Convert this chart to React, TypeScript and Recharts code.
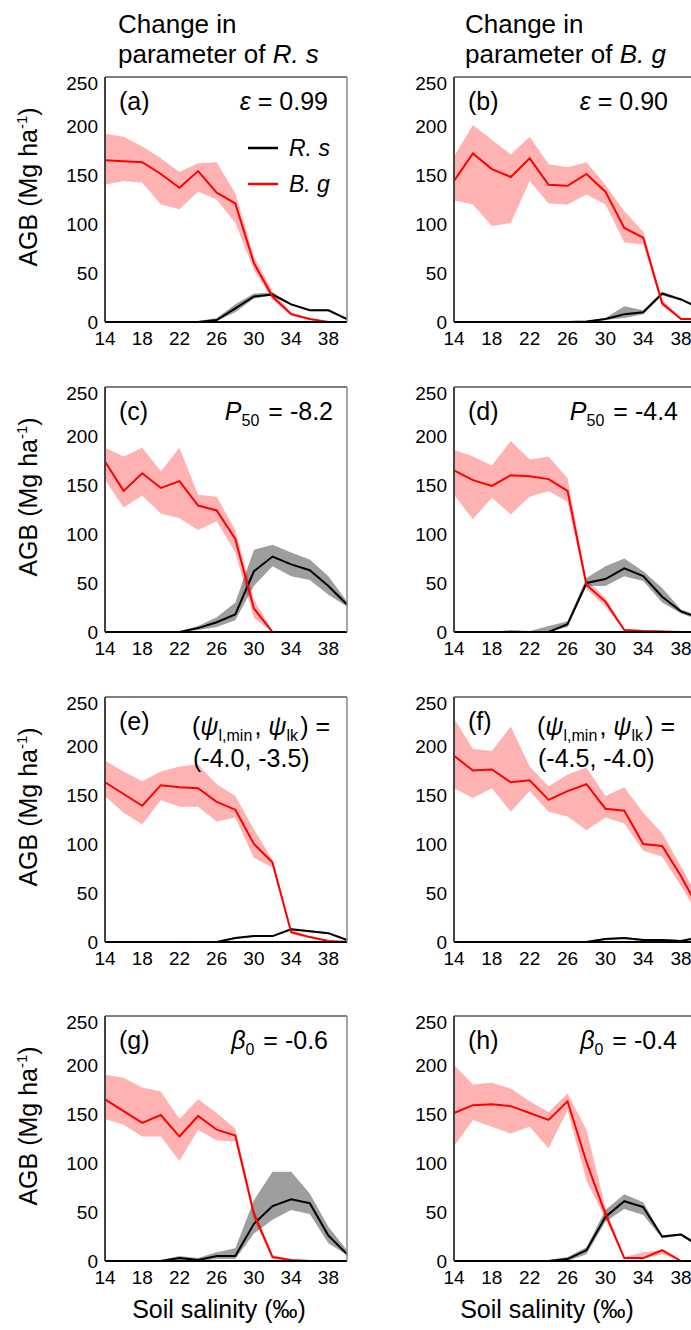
import React from "react";
import { ComposedChart, Line, Area, XAxis, YAxis, Legend } from "recharts";

const salinity = [14, 16, 18, 20, 22, 24, 26, 28, 30, 32, 34, 36, 38, 40];
const xTicks = [14, 18, 22, 26, 30, 34, 38];
const yTicks = [0, 50, 100, 150, 200, 250];
const legendOrder = ["R. s", "B. g"];

// (a) epsilon of R. s
const aBg = [165, 164, 163, 151, 137, 154, 132, 121, 60, 26, 8, 3, 0, 0];
const aBgHi = [192, 189, 179, 167, 153, 162, 163, 131, 67, 31, 10, 4, 0, 0];
const aBgLo = [140, 144, 142, 120, 115, 133, 125, 101, 53, 23, 6, 2, 0, 0];
const aRs = [0, 0, 0, 0, 0, 0, 2, 14, 26, 28, 18, 12, 12, 3];
const aRsHi = [0, 0, 0, 0, 0, 1, 4, 18, 29, 30, 19, 13, 13, 4];
const aRsLo = [0, 0, 0, 0, 0, 0, 1, 10, 24, 27, 17, 11, 11, 2];

// (b) epsilon of B. g
const bBg = [144, 172, 156, 148, 167, 140, 139, 151, 133, 96, 86, 19, 3, 3];
const bBgHi = [169, 201, 186, 171, 189, 161, 158, 163, 140, 113, 92, 23, 4, 4];
const bBgLo = [124, 120, 98, 101, 144, 121, 120, 130, 120, 81, 79, 16, 2, 2];
const bRs = [0, 0, 0, 0, 0, 0, 0, 0.5, 3, 8, 10, 29, 23, 14];
const bRsHi = [0, 0, 0, 0, 0, 0, 0, 1, 4, 16, 12, 31, 24, 15];
const bRsLo = [0, 0, 0, 0, 0, 0, 0, 0, 2, 4, 8, 27, 22, 13];

// (c) P50 of R. s
const cBg = [174, 144, 162, 147, 154, 129, 124, 95, 24, 0, 0, 0, 0, 0];
const cBgHi = [188, 179, 188, 164, 188, 140, 138, 104, 33, 1, 0, 0, 0, 0];
const cBgLo = [155, 127, 139, 121, 116, 104, 113, 81, 14, 0, 0, 0, 0, 0];
const cRs = [0, 0, 0, 0, 0, 4, 10, 18, 62, 77, 69, 63, 47, 28];
const cRsHi = [0, 0, 0, 0, 0, 6, 15, 30, 84, 89, 81, 74, 57, 31];
const cRsLo = [0, 0, 0, 0, 0, 2, 5, 12, 47, 67, 57, 53, 38, 26];

// (d) P50 of B. g
const dBg = [165, 155, 149, 160, 159, 156, 144, 48, 31, 2, 1, 0.5, 0, 0];
const dBgHi = [186, 179, 170, 195, 176, 179, 157, 53, 35, 3, 2, 1, 0, 0];
const dBgLo = [140, 115, 137, 120, 138, 144, 133, 44, 26, 1, 0, 0, 0, 0];
const dRs = [0, 0, 0, 0, 0, 0, 8, 50, 54, 65, 57, 36, 21, 14];
const dRsHi = [0, 0, 0, 2, 1, 6, 11, 55, 67, 75, 62, 45, 23, 16];
const dRsLo = [0, 0, 0, 0, 0, 0, 5, 47, 47, 57, 52, 30, 19, 12];

// (e) psi of R. s
const eBg = [163, 151, 139, 160, 158, 157, 143, 135, 100, 81, 10, 5, 1, 0];
const eBgHi = [185, 174, 164, 174, 179, 181, 161, 149, 115, 84, 13, 6, 2, 0];
const eBgLo = [149, 132, 120, 145, 138, 138, 123, 127, 86, 76, 8, 4, 0, 0];
const eRs = [0, 0, 0, 0, 0, 0, 0, 4, 6, 6, 13, 11, 9, 2];
const eRsHi = [0, 0, 0, 0, 0, 0, 1, 5, 7, 7, 14, 12, 10, 3];
const eRsLo = [0, 0, 0, 0, 0, 0, 0, 3, 5, 5, 12, 10, 8, 1];

// (f) psi of B. g
const fBg = [190, 175, 176, 163, 165, 145, 154, 161, 136, 134, 100, 98, 67, 32];
const fBgHi = [228, 197, 195, 220, 179, 159, 171, 178, 149, 158, 132, 111, 77, 42];
const fBgLo = [157, 147, 157, 133, 154, 133, 128, 114, 127, 121, 93, 87, 57, 25];
const fRs = [0, 0, 0, 0, 0, 0, 0, 0, 3, 4, 2, 2, 1, 5];
const fRsHi = [0, 0, 0, 0, 0, 0, 0, 1, 4, 5, 3, 3, 2, 6];
const fRsLo = [0, 0, 0, 0, 0, 0, 0, 0, 2, 3, 1, 1, 0, 4];

// (g) beta0 of R. s
const gBg = [165, 153, 141, 149, 127, 148, 134, 128, 48, 4, 1, 0, 0, 0];
const gBgHi = [190, 187, 177, 173, 145, 165, 151, 135, 53, 6, 1, 0, 0, 0];
const gBgLo = [145, 139, 127, 127, 102, 134, 123, 122, 42, 2, 0, 0, 0, 0];
const gRs = [0, 0, 0, 0, 3, 1, 5, 5, 38, 56, 63, 59, 26, 7];
const gRsHi = [0, 0, 0, 1, 5, 3, 9, 13, 62, 91, 91, 69, 35, 11];
const gRsLo = [0, 0, 0, 0, 1, 0, 2, 2, 28, 42, 52, 48, 18, 6];

// (h) beta0 of B. g
const hBg = [151, 159, 160, 158, 151, 144, 163, 101, 48, 3, 3, 11, 0, 0];
const hBgHi = [200, 180, 182, 176, 163, 152, 171, 134, 55, 4, 9, 11, 0, 0];
const hBgLo = [117, 144, 137, 130, 137, 115, 154, 82, 43, 2, 2, 7, 0, 0];
const hRs = [0, 0, 0, 0, 0, 0, 2, 11, 45, 61, 55, 25, 27, 15];
const hRsHi = [0, 0, 0, 0, 0, 1, 4, 14, 52, 68, 60, 26, 28, 17];
const hRsLo = [0, 0, 0, 0, 0, 0, 0, 7, 40, 53, 47, 23, 26, 13];

const FONT = '"Liberation Sans", Arial, Helvetica, sans-serif';
const PLOT_H = 245;
const M_TOP = 5;
const AXIS_W = 50;
const M_LEFT = 10;
const M_RIGHT = 14;

function rowsOf(bg, bgLo, bgHi, rs, rsLo, rsHi) {
  return salinity.map((s, i) => ({
    s,
    bg: bg[i],
    bgBand: [bgLo[i], bgHi[i]],
    rs: rs[i],
    rsBand: [rsLo[i], rsHi[i]],
  }));
}

function LegendBox({ payload }) {
  const items = (payload || [])
    .filter((p) => p.type !== "none")
    .sort((a, b) => legendOrder.indexOf(a.value) - legendOrder.indexOf(b.value));
  return (
    <div style={{ fontFamily: FONT }}>
      {items.map((p) => (
        <div key={p.value} style={{ display: "flex", alignItems: "center", height: 36 }}>
          <svg width={30} height={4}>
            <line x1={0} x2={30} y1={2} y2={2} stroke={p.color} strokeWidth={2.5} />
          </svg>
          <span style={{ marginLeft: 11, fontStyle: "italic", fontSize: 23, color: "#000" }}>
            {p.value}
          </span>
        </div>
      ))}
    </div>
  );
}

function Panel({ px, py, plotW, rows, legend = false }) {
  const left = px - AXIS_W - M_LEFT;
  const width = M_LEFT + AXIS_W + plotW + M_RIGHT;
  const height = M_TOP + PLOT_H + 40;
  return (
    <div style={{ position: "absolute", left, top: py - M_TOP, width, height }}>
      <ComposedChart
        width={width}
        height={height}
        data={rows}
        margin={{ top: M_TOP, right: M_RIGHT, bottom: 10, left: M_LEFT }}
      >
        <XAxis
          dataKey="s"
          type="number"
          domain={[14, 40]}
          ticks={xTicks}
          height={30}
          tickLine={false}
          tickSize={5}
          tickMargin={5}
          axisLine={{ stroke: "#000", strokeWidth: 2 }}
          tick={{ fill: "#000", fontSize: 19, fontFamily: FONT }}
        />
        <XAxis
          xAxisId="top"
          orientation="top"
          mirror
          type="number"
          domain={[14, 40]}
          ticks={xTicks}
          tick={false}
          tickSize={4}
          axisLine={{ stroke: "#555", strokeWidth: 1.5 }}
          tickLine={{ stroke: "#777" }}
        />
        <YAxis
          type="number"
          domain={[0, 250]}
          ticks={yTicks}
          width={AXIS_W}
          tickLine={false}
          tickSize={5}
          tickMargin={2}
          axisLine={{ stroke: "#444", strokeWidth: 2 }}
          tick={{ fill: "#000", fontSize: 19, fontFamily: FONT }}
        />
        <YAxis
          yAxisId="right"
          orientation="right"
          mirror
          type="number"
          domain={[0, 250]}
          ticks={yTicks}
          tick={false}
          tickSize={4}
          axisLine={{ stroke: "#888", strokeWidth: 1.5 }}
          tickLine={{ stroke: "#888" }}
        />
        <Area
          dataKey="bgBand"
          type="linear"
          stroke="none"
          fill="#ff0000"
          fillOpacity={0.3}
          legendType="none"
          isAnimationActive={false}
        />
        <Area
          dataKey="rsBand"
          type="linear"
          stroke="none"
          fill="#000000"
          fillOpacity={0.38}
          legendType="none"
          isAnimationActive={false}
        />
        <Line
          dataKey="rs"
          name="R. s"
          type="linear"
          stroke="#000000"
          strokeWidth={2}
          dot={false}
          isAnimationActive={false}
        />
        <Line
          dataKey="bg"
          name="B. g"
          type="linear"
          stroke="#ff0000"
          strokeWidth={2}
          dot={false}
          isAnimationActive={false}
        />
        {legend && (
          <Legend
            layout="vertical"
            align="center"
            verticalAlign="middle"
            wrapperStyle={{ left: 203, top: 58, width: 140 }}
            content={(props) => <LegendBox payload={props.payload} />}
          />
        )}
      </ComposedChart>
    </div>
  );
}

const LX = 105;
const RX = 454;
const LW = 242;
const RW = 246;
const ROWS = [77, 387, 697, 1016];

const txt = { fontFamily: FONT, fill: "#000" };

function Sub({ children }) {
  return (
    <>
      <tspan fontSize={16} dy={6}>
        {children}
      </tspan>
      <tspan dy={-6}>{"\u200a"}</tspan>
    </>
  );
}

function Notes({ x, y, tag, children }) {
  return (
    <g transform={`translate(${x},${y})`} style={txt} fontSize={25}>
      <text x={14} y={33}>
        {tag}
      </text>
      {children}
    </g>
  );
}

export default function App() {
  const panels = [
    { px: LX, py: ROWS[0], plotW: LW, rows: rowsOf(aBg, aBgLo, aBgHi, aRs, aRsLo, aRsHi), legend: true },
    { px: RX, py: ROWS[0], plotW: RW, rows: rowsOf(bBg, bBgLo, bBgHi, bRs, bRsLo, bRsHi) },
    { px: LX, py: ROWS[1], plotW: LW, rows: rowsOf(cBg, cBgLo, cBgHi, cRs, cRsLo, cRsHi) },
    { px: RX, py: ROWS[1], plotW: RW, rows: rowsOf(dBg, dBgLo, dBgHi, dRs, dRsLo, dRsHi) },
    { px: LX, py: ROWS[2], plotW: LW, rows: rowsOf(eBg, eBgLo, eBgHi, eRs, eRsLo, eRsHi) },
    { px: RX, py: ROWS[2], plotW: RW, rows: rowsOf(fBg, fBgLo, fBgHi, fRs, fRsLo, fRsHi) },
    { px: LX, py: ROWS[3], plotW: LW, rows: rowsOf(gBg, gBgLo, gBgHi, gRs, gRsLo, gRsHi) },
    { px: RX, py: ROWS[3], plotW: RW, rows: rowsOf(hBg, hBgLo, hBgHi, hRs, hRsLo, hRsHi) },
  ];

  return (
    <div
      style={{
        position: "absolute",
        left: 0,
        top: 0,
        width: 691,
        height: 1330,
        overflow: "hidden",
        background: "#fff",
        fontFamily: FONT,
      }}
    >
      {panels.map((p, i) => (
        <Panel key={i} {...p} />
      ))}
      <svg
        width={691}
        height={1330}
        style={{ position: "absolute", left: 0, top: 0, pointerEvents: "none" }}
      >
        {/* column headers */}
        <text x={118} y={33} style={txt} fontSize={26}>
          Change in
        </text>
        <text x={118} y={63} style={txt} fontSize={26}>
          parameter of <tspan fontStyle="italic">R. s</tspan>
        </text>
        <text x={465} y={33} style={txt} fontSize={26}>
          Change in
        </text>
        <text x={465} y={63} style={txt} fontSize={26}>
          parameter of <tspan fontStyle="italic">B. g</tspan>
        </text>

        {/* y labels */}
        {ROWS.map((r) => (
          <text
            key={r}
            transform={`translate(37,${r + 110}) rotate(-90)`}
            textAnchor="middle"
            style={txt}
            fontSize={25}
          >
            AGB (Mg ha
            <tspan fontSize={15} dy={-10}>
              -1
            </tspan>
            <tspan dy={10}>)</tspan>
          </text>
        ))}

        {/* x labels */}
        <text x={219} y={1318} textAnchor="middle" style={txt} fontSize={25}>
          Soil salinity (‰)
        </text>
        <text x={547} y={1318} textAnchor="middle" style={txt} fontSize={25}>
          Soil salinity (‰)
        </text>

        {/* panel annotations */}
        <Notes x={LX} y={ROWS[0]} tag="(a)">
          <text x={223} y={33} textAnchor="end">
            <tspan fontStyle="italic">ε</tspan> = 0.99
          </text>
        </Notes>
        <Notes x={RX} y={ROWS[0]} tag="(b)">
          <text x={214} y={33} textAnchor="end">
            <tspan fontStyle="italic">ε</tspan> = 0.90
          </text>
        </Notes>
        <Notes x={LX} y={ROWS[1]} tag="(c)">
          <text x={228} y={33} textAnchor="end">
            <tspan fontStyle="italic">P</tspan>
            <Sub>50</Sub> = -8.2
          </text>
        </Notes>
        <Notes x={RX} y={ROWS[1]} tag="(d)">
          <text x={224} y={33} textAnchor="end">
            <tspan fontStyle="italic">P</tspan>
            <Sub>50</Sub> = -4.4
          </text>
        </Notes>
        <Notes x={LX} y={ROWS[2]} tag="(e)">
          <text x={87} y={38}>
            (<tspan fontStyle="italic">ψ</tspan>
            <Sub>l,min</Sub>, <tspan fontStyle="italic">ψ</tspan>
            <Sub>lk</Sub>) =
          </text>
          <text x={88} y={70}>
            (-4.0, -3.5)
          </text>
        </Notes>
        <Notes x={RX} y={ROWS[2]} tag="(f)">
          <text x={83} y={38}>
            (<tspan fontStyle="italic">ψ</tspan>
            <Sub>l,min</Sub>, <tspan fontStyle="italic">ψ</tspan>
            <Sub>lk</Sub>) =
          </text>
          <text x={84} y={70}>
            (-4.5, -4.0)
          </text>
        </Notes>
        <Notes x={LX} y={ROWS[3]} tag="(g)">
          <text x={223} y={33} textAnchor="end">
            <tspan fontStyle="italic">β</tspan>
            <Sub>0</Sub> = -0.6
          </text>
        </Notes>
        <Notes x={RX} y={ROWS[3]} tag="(h)">
          <text x={223} y={33} textAnchor="end">
            <tspan fontStyle="italic">β</tspan>
            <Sub>0</Sub> = -0.4
          </text>
        </Notes>
      </svg>
    </div>
  );
}
